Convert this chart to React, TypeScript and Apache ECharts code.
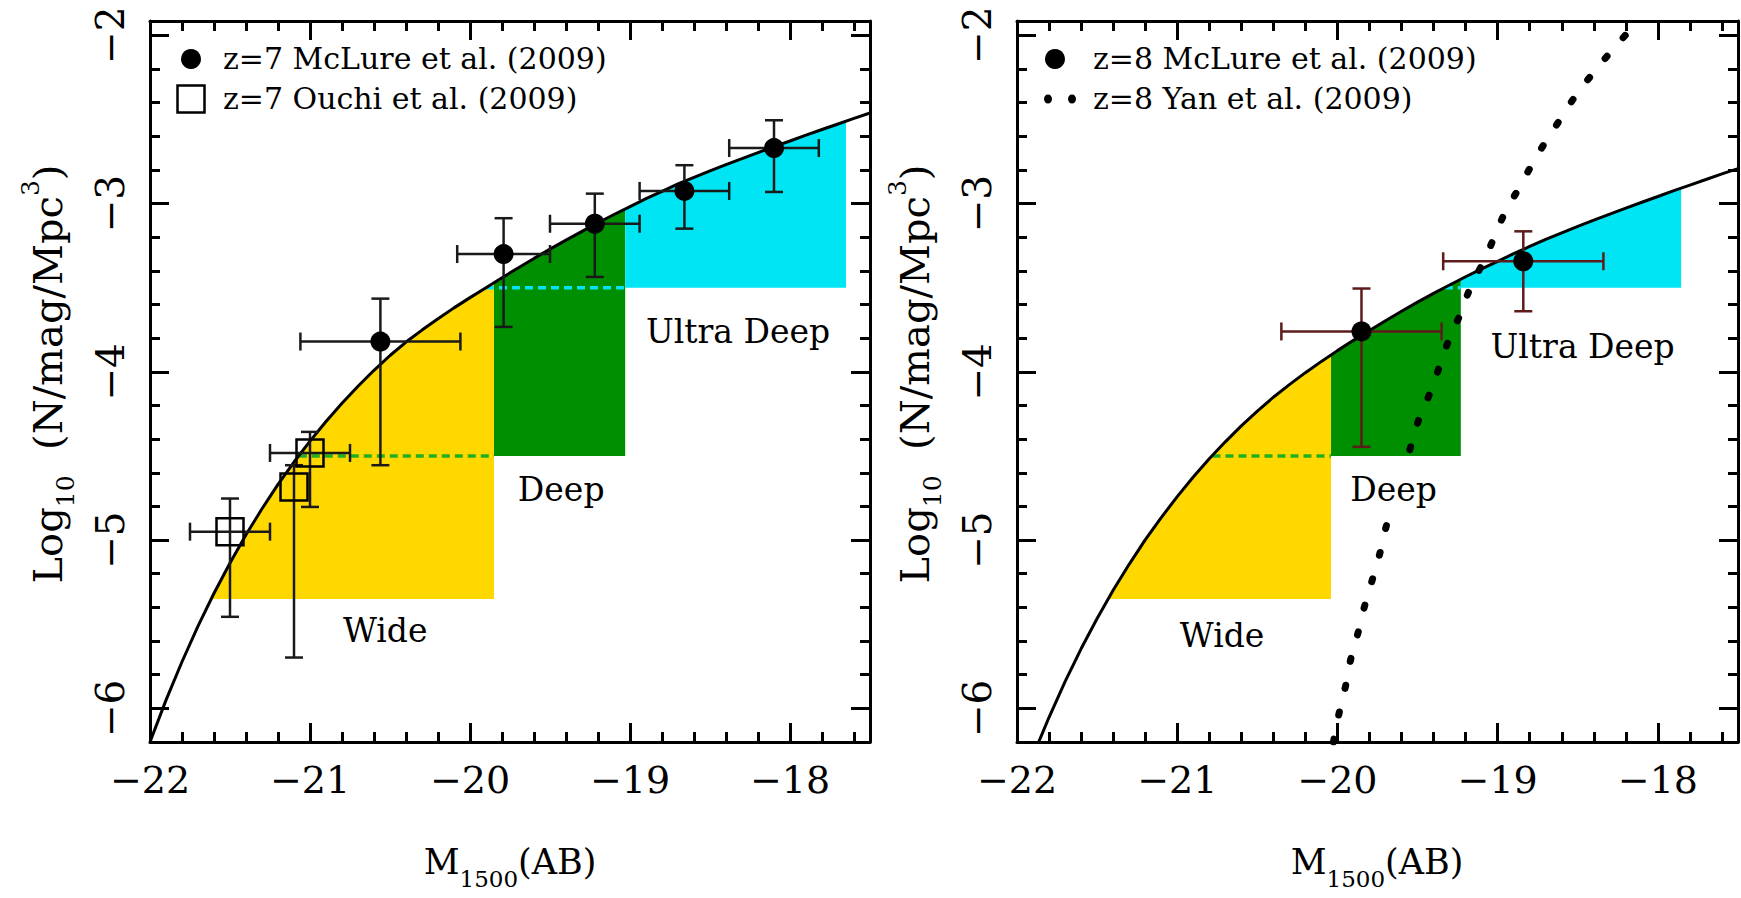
import React, { useEffect, useRef } from 'react';
import * as echarts from 'echarts';

// ---------- data ----------
// z=7 Schechter curve (left panel)
const z7CurveMag = [-22.0, -21.9, -21.8, -21.7, -21.6, -21.5, -21.4, -21.3, -21.2, -21.1, -21.0, -20.9, -20.8, -20.7, -20.6, -20.5, -20.4, -20.3, -20.2, -20.1, -20.0, -19.9, -19.8, -19.7, -19.6, -19.5, -19.4, -19.3, -19.2, -19.1, -19.0, -18.9, -18.8, -18.7, -18.6, -18.5, -18.4, -18.3, -18.2, -18.1, -18.0, -17.9, -17.8, -17.7, -17.6, -17.5];
const z7CurveLogPhi = [-6.200, -5.951, -5.723, -5.511, -5.316, -5.136, -4.968, -4.814, -4.669, -4.536, -4.412, -4.295, -4.187, -4.086, -3.991, -3.903, -3.823, -3.752, -3.685, -3.620, -3.559, -3.500, -3.441, -3.383, -3.326, -3.271, -3.217, -3.165, -3.114, -3.065, -3.018, -2.971, -2.927, -2.883, -2.844, -2.806, -2.769, -2.733, -2.697, -2.662, -2.628, -2.593, -2.560, -2.527, -2.494, -2.462];

// z=8 Schechter curve (right panel)
const z8CurveMag = [-21.9, -21.8, -21.7, -21.6, -21.5, -21.4, -21.3, -21.2, -21.1, -21.0, -20.9, -20.8, -20.7, -20.6, -20.5, -20.4, -20.3, -20.2, -20.1, -20.0, -19.9, -19.8, -19.7, -19.6, -19.5, -19.4, -19.3, -19.2, -19.1, -19.0, -18.9, -18.8, -18.7, -18.6, -18.5, -18.4, -18.3, -18.2, -18.1, -18.0, -17.9, -17.8, -17.7, -17.6, -17.5];
const z8CurveLogPhi = [-6.281, -6.053, -5.841, -5.646, -5.466, -5.298, -5.144, -4.999, -4.866, -4.742, -4.625, -4.517, -4.416, -4.321, -4.233, -4.151, -4.076, -4.005, -3.938, -3.874, -3.813, -3.754, -3.696, -3.640, -3.586, -3.534, -3.484, -3.435, -3.388, -3.343, -3.298, -3.255, -3.213, -3.174, -3.136, -3.099, -3.063, -3.027, -2.992, -2.958, -2.923, -2.890, -2.857, -2.824, -2.792];

// z=7 McLure et al. (2009)
const z7McLureMag = [-20.56, -19.79, -19.22, -18.66, -18.10];
const z7McLureLogPhi = [-3.82, -3.30, -3.12, -2.925, -2.67];
const z7McLureMagErr = [0.5, 0.29, 0.28, 0.28, 0.28];
const z7McLureLogPhiLo = [-4.555, -3.733, -3.436, -3.149, -2.931];
const z7McLureLogPhiHi = [-3.565, -3.087, -2.941, -2.772, -2.505];

// z=7 Ouchi et al. (2009)
const z7OuchiMag = [-21.5, -21.1, -21.0];
const z7OuchiLogPhi = [-4.95, -4.684, -4.482];
const z7OuchiMagErr = [0.25, 0, 0.25];
const z7OuchiLogPhiLo = [-5.456, -5.698, -4.803];
const z7OuchiLogPhiHi = [-4.753, -4.555, -4.357];

// z=8 McLure et al. (2009)
const z8McLureMag = [-19.85, -18.84];
const z8McLureLogPhi = [-3.76, -3.343];
const z8McLureMagErr = [0.5, 0.5];
const z8McLureLogPhiLo = [-4.446, -3.64];
const z8McLureLogPhiHi = [-3.505, -3.165];

// z=8 Yan et al. (2009)
const z8YanMag = [-20.025, -19.99, -19.95, -19.915, -19.87, -19.83, -19.78, -19.73, -19.69, -19.54, -19.49, -19.42, -19.36, -19.30, -19.23, -19.17, -19.09, -19.02, -18.952, -18.866, -18.784, -18.695, -18.60, -18.509, -18.40, -18.29, -18.17, -18.12];
const z8YanLogPhi = [-6.2, -6.03, -5.87, -5.70, -5.545, -5.39, -5.228, -5.06, -4.90, -4.436, -4.278, -4.12, -3.96, -3.80, -3.65, -3.50, -3.347, -3.198, -3.049, -2.906, -2.765, -2.623, -2.486, -2.353, -2.22, -2.094, -1.965, -1.915];

// surveys (Wide / Deep / Ultra Deep)
const surveyNames = ['Wide', 'Deep', 'Ultra Deep'];
const z7SurveyMagFrom = [-21.62, -19.85, -19.03];
const z7SurveyMagTo = [-19.85, -19.03, -17.65];
const z7SurveyLogPhiFloor = [-5.35, -4.5, -3.5];
const z8SurveyMagFrom = [-21.43, -20.04, -19.23];
const z8SurveyMagTo = [-20.04, -19.23, -17.855];
const z8SurveyLogPhiFloor = [-5.35, -4.5, -3.5];

// dashed depth limits continued over shallower survey (Deep, Ultra Deep)
const z7LimitMagFrom = [-21.07, -19.9];
const z7LimitMagTo = [-19.85, -19.03];
const z7LimitLogPhi = [-4.5, -3.5];
const z8LimitMagFrom = [-20.78, -19.33];
const z8LimitMagTo = [-20.04, -19.23];
const z8LimitLogPhi = [-4.5, -3.5];

// survey label anchors
const z7LabelMag = [-20.53, -19.43, -18.325];
const z7LabelLogPhi = [-5.535, -4.70, -3.76];
const z8LabelMag = [-20.72, -19.65, -18.47];
const z8LabelLogPhi = [-5.57, -4.70, -3.85];

const yTickValues = [-6, -5, -4, -3, -2];

// ---------- styles ----------
const FONT = 'DejaVu Serif';
const MINUS = '\u2212';
const surveyColors = ['#FFD800', '#008F00', '#00E5F3'];
const limitColors = ['#22B022', '#00E5F3'];

function fmtTick(v: number) {
  if (Math.abs(v - Math.round(v)) > 1e-6) return '';
  const r = Math.round(v);
  return r < 0 ? MINUS + Math.abs(r) : String(r);
}

function interp(mags: number[], phis: number[], m: number) {
  if (m <= mags[0]) return phis[0];
  for (let i = 0; i < mags.length - 1; i++) {
    if (m >= mags[i] && m <= mags[i + 1]) {
      const t = (m - mags[i]) / (mags[i + 1] - mags[i]);
      return phis[i] + t * (phis[i + 1] - phis[i]);
    }
  }
  return phis[phis.length - 1];
}

const axisLine = { show: true, onZero: false, lineStyle: { color: '#000', width: 3 } };
const tickLine = { color: '#000', width: 3 };

function xAxes(gridIndex: number) {
  const base: any = {
    type: 'value', gridIndex, min: -22, max: -17.5, interval: 1,
    axisLine,
    axisTick: { show: true, inside: true, length: 19, lineStyle: tickLine },
    minorTick: { show: true, splitNumber: 5, length: 10, lineStyle: tickLine },
    splitLine: { show: false }, minorSplitLine: { show: false },
  };
  return [
    { ...base, position: 'bottom', axisLabel: { show: true, margin: 19, fontFamily: FONT, fontSize: 38, color: '#000', formatter: fmtTick } },
    { ...base, position: 'top', axisLabel: { show: false } },
  ];
}

function yAxes(gridIndex: number) {
  const base: any = {
    type: 'value', gridIndex, min: -6.2, max: -1.915, interval: 0.2,
    axisLine,
    axisTick: { show: true, inside: true, length: 10, lineStyle: tickLine },
    splitLine: { show: false },
  };
  const major: any = {
    type: 'value', gridIndex, min: -6.2, max: -1.915, interval: 0.2,
    axisLine: { show: false, onZero: false },
    axisTick: { show: true, inside: true, length: 19, customValues: yTickValues, lineStyle: tickLine },
    axisLabel: { show: false },
    splitLine: { show: false },
  };
  return [
    { ...base, position: 'left', axisLabel: { show: true, rotate: 90, margin: 20, fontFamily: FONT, fontSize: 39, color: '#000', formatter: fmtTick } },
    { ...major, position: 'left' },
    { ...base, position: 'right', axisLabel: { show: false } },
    { ...major, position: 'right' },
  ];
}

function regionSeries(mags: number[], phis: number[], from: number[], to: number[], floor: number[], xi: number, yi: number) {
  return {
    type: 'custom', xAxisIndex: xi, yAxisIndex: yi, z: 1, silent: true,
    data: from.map((f, i) => [f, to[i], floor[i], i]),
    encode: { x: [0, 1], y: 2 },
    renderItem: (params: any, api: any) => {
      const a = api.value(0), b = api.value(1), fl = api.value(2), idx = api.value(3);
      const pts: number[][] = [];
      pts.push(api.coord([a, fl]));
      pts.push(api.coord([a, Math.max(interp(mags, phis, a), fl)]));
      for (let i = 0; i < mags.length; i++) {
        if (mags[i] > a && mags[i] < b) pts.push(api.coord([mags[i], Math.max(phis[i], fl)]));
      }
      pts.push(api.coord([b, Math.max(interp(mags, phis, b), fl)]));
      pts.push(api.coord([b, fl]));
      return { type: 'polygon', shape: { points: pts }, style: { fill: surveyColors[idx], stroke: null } };
    },
  };
}

function limitSeries(from: number[], to: number[], level: number[], xi: number, yi: number) {
  return from.map((f, i) => ({
    type: 'line', xAxisIndex: xi, yAxisIndex: yi, z: 2, silent: true, symbol: 'none',
    data: [[f, level[i]], [to[i], level[i]]],
    lineStyle: { color: limitColors[i], width: 3.5, type: [8, 5] },
  }));
}

function curveSeries(mags: number[], phis: number[], xi: number, yi: number) {
  return {
    type: 'line', xAxisIndex: xi, yAxisIndex: yi, z: 3, silent: true, symbol: 'none', clip: true,
    data: mags.map((m, i) => [m, phis[i]]),
    lineStyle: { color: '#000', width: 3 },
  };
}

function errorSeries(mag: number[], phi: number[], magErr: number[], lo: number[], hi: number[], xi: number, yi: number, color: string) {
  return {
    type: 'custom', xAxisIndex: xi, yAxisIndex: yi, z: 4, silent: true,
    data: mag.map((m, i) => [m, phi[i], m - magErr[i], m + magErr[i], lo[i], hi[i]]),
    encode: { x: 0, y: 1 },
    renderItem: (params: any, api: any) => {
      const m = api.value(0), v = api.value(1), xl = api.value(2), xh = api.value(3), yl = api.value(4), yh = api.value(5);
      const st = { stroke: color, lineWidth: 2.5 };
      const cap = 9;
      const ch: any[] = [];
      if (xh > xl) {
        const p1 = api.coord([xl, v]), p2 = api.coord([xh, v]);
        ch.push({ type: 'line', shape: { x1: p1[0], y1: p1[1], x2: p2[0], y2: p2[1] }, style: st });
        ch.push({ type: 'line', shape: { x1: p1[0], y1: p1[1] - cap, x2: p1[0], y2: p1[1] + cap }, style: st });
        ch.push({ type: 'line', shape: { x1: p2[0], y1: p2[1] - cap, x2: p2[0], y2: p2[1] + cap }, style: st });
      }
      const q1 = api.coord([m, yl]), q2 = api.coord([m, yh]);
      ch.push({ type: 'line', shape: { x1: q1[0], y1: q1[1], x2: q2[0], y2: q2[1] }, style: st });
      ch.push({ type: 'line', shape: { x1: q1[0] - cap, y1: q1[1], x2: q1[0] + cap, y2: q1[1] }, style: st });
      ch.push({ type: 'line', shape: { x1: q2[0] - cap, y1: q2[1], x2: q2[0] + cap, y2: q2[1] }, style: st });
      return { type: 'group', children: ch };
    },
  };
}

function labelSeries(mags: number[], phis: number[], xi: number, yi: number) {
  return {
    type: 'scatter', xAxisIndex: xi, yAxisIndex: yi, z: 6, silent: true,
    symbolSize: 1, itemStyle: { color: 'rgba(0,0,0,0)', opacity: 1 },
    data: mags.map((m, i) => ({
      value: [m, phis[i]], name: surveyNames[i],
      label: surveyNames[i] === 'Deep' ? { backgroundColor: '#fff', padding: [4, 4] } : {},
    })),
    label: { show: true, position: 'inside', formatter: (p: any) => p.name, fontFamily: FONT, fontSize: 33, color: '#000', opacity: 1 },
  };
}

const richY = {
  m: { fontFamily: FONT, fontSize: 40, lineHeight: 60, fill: '#000' },
  s: { fontFamily: FONT, fontSize: 25, lineHeight: 25, verticalAlign: 'bottom', fill: '#000' },
  p: { fontFamily: FONT, fontSize: 25, lineHeight: 25, verticalAlign: 'top', fill: '#000' },
};
const richX = {
  m: { fontFamily: FONT, fontSize: 35, lineHeight: 56, fill: '#000' },
  s: { fontFamily: FONT, fontSize: 23, lineHeight: 24, verticalAlign: 'bottom', fill: '#000' },
};

function titles(cx: number, yTitleX: number) {
  return [
    {
      type: 'text', x: yTitleX, y: 374, rotation: Math.PI / 2, silent: true,
      style: { text: '{m|Log}{s|10}{m|  (N/mag/Mpc}{p|3}{m|)}', rich: richY, align: 'center', verticalAlign: 'middle', fill: '#000' },
    },
    {
      type: 'text', x: cx, y: 862, silent: true,
      style: { text: '{m|M}{s|1500}{m|(AB)}', rich: richX, align: 'center', verticalAlign: 'middle', fill: '#000' },
    },
  ];
}

const legendFont = { fontFamily: FONT, fontSize: 30, fill: '#000' };

function buildOption() {
  const graphic: any[] = [
    ...titles(510, 48),
    ...titles(1377, 915),
    // left legend
    { type: 'circle', shape: { cx: 191, cy: 59, r: 10 }, style: { fill: '#000' }, silent: true },
    { type: 'text', x: 223, y: 58, style: { text: 'z=7 McLure et al. (2009)', ...legendFont, verticalAlign: 'middle' }, silent: true },
    { type: 'rect', shape: { x: 177.5, y: 85.5, width: 27, height: 27 }, style: { fill: 'none', stroke: '#000', lineWidth: 2.5 }, silent: true },
    { type: 'text', x: 223, y: 98, style: { text: 'z=7 Ouchi et al. (2009)', ...legendFont, verticalAlign: 'middle' }, silent: true },
    // right legend
    { type: 'circle', shape: { cx: 1055, cy: 59, r: 10 }, style: { fill: '#000' }, silent: true },
    { type: 'text', x: 1093, y: 58, style: { text: 'z=8 McLure et al. (2009)', ...legendFont, verticalAlign: 'middle' }, silent: true },
    { type: 'ellipse', shape: { cx: 1048, cy: 99, rx: 4, ry: 4.5 }, style: { fill: '#000' }, silent: true },
    { type: 'ellipse', shape: { cx: 1072, cy: 99, rx: 4, ry: 4.5 }, style: { fill: '#000' }, silent: true },
    { type: 'text', x: 1093, y: 98, style: { text: 'z=8 Yan et al. (2009)', ...legendFont, verticalAlign: 'middle' }, silent: true },
  ];

  const series: any[] = [
    // left panel: x 0, y 0
    regionSeries(z7CurveMag, z7CurveLogPhi, z7SurveyMagFrom, z7SurveyMagTo, z7SurveyLogPhiFloor, 0, 0),
    ...limitSeries(z7LimitMagFrom, z7LimitMagTo, z7LimitLogPhi, 0, 0),
    curveSeries(z7CurveMag, z7CurveLogPhi, 0, 0),
    errorSeries(z7McLureMag, z7McLureLogPhi, z7McLureMagErr, z7McLureLogPhiLo, z7McLureLogPhiHi, 0, 0, '#1a1a1a'),
    errorSeries(z7OuchiMag, z7OuchiLogPhi, z7OuchiMagErr, z7OuchiLogPhiLo, z7OuchiLogPhiHi, 0, 0, '#1a1a1a'),
    {
      type: 'scatter', xAxisIndex: 0, yAxisIndex: 0, z: 5, silent: true, symbol: 'circle', symbolSize: 20,
      itemStyle: { color: '#000', opacity: 1 }, data: z7McLureMag.map((m, i) => [m, z7McLureLogPhi[i]]),
    },
    {
      type: 'scatter', xAxisIndex: 0, yAxisIndex: 0, z: 5, silent: true, symbol: 'rect', symbolSize: 27,
      itemStyle: { color: 'rgba(0,0,0,0)', borderColor: '#000', borderWidth: 2.5, opacity: 1 },
      data: z7OuchiMag.map((m, i) => [m, z7OuchiLogPhi[i]]),
    },
    labelSeries(z7LabelMag, z7LabelLogPhi, 0, 0),
    // right panel: x 2, y 4
    regionSeries(z8CurveMag, z8CurveLogPhi, z8SurveyMagFrom, z8SurveyMagTo, z8SurveyLogPhiFloor, 2, 4),
    ...limitSeries(z8LimitMagFrom, z8LimitMagTo, z8LimitLogPhi, 2, 4),
    curveSeries(z8CurveMag, z8CurveLogPhi, 2, 4),
    {
      type: 'line', xAxisIndex: 2, yAxisIndex: 4, z: 3, silent: true, symbol: 'none', smooth: true, clip: true,
      data: z8YanMag.map((m, i) => [m, z8YanLogPhi[i]]),
      lineStyle: { color: '#000', width: 7, type: [3, 24.5], cap: 'round' },
    },
    errorSeries(z8McLureMag, z8McLureLogPhi, z8McLureMagErr, z8McLureLogPhiLo, z8McLureLogPhiHi, 2, 4, '#5C1C1C'),
    {
      type: 'scatter', xAxisIndex: 2, yAxisIndex: 4, z: 5, silent: true, symbol: 'circle', symbolSize: 20,
      itemStyle: { color: '#000', opacity: 1 }, data: z8McLureMag.map((m, i) => [m, z8McLureLogPhi[i]]),
    },
    labelSeries(z8LabelMag, z8LabelLogPhi, 2, 4),
  ];

  return {
    animation: false,
    backgroundColor: '#fff',
    textStyle: { fontFamily: FONT },
    grid: [
      { left: 150, top: 21, width: 720, height: 721, containLabel: false },
      { left: 1017, top: 21, width: 721, height: 721, containLabel: false },
    ],
    xAxis: [...xAxes(0), ...xAxes(1)],
    yAxis: [...yAxes(0), ...yAxes(1)],
    series,
    graphic,
  };
}

export default function App() {
  const ref = useRef<HTMLDivElement>(null);
  useEffect(() => {
    if (!ref.current) return;
    const chart = echarts.init(ref.current, null, { renderer: 'svg' });
    chart.setOption(buildOption() as any);
    return () => chart.dispose();
  }, []);
  return (
    <div
      ref={ref}
      style={{ position: 'absolute', left: 0, top: 0, width: 1741, height: 898, background: '#fff' }}
    />
  );
}
